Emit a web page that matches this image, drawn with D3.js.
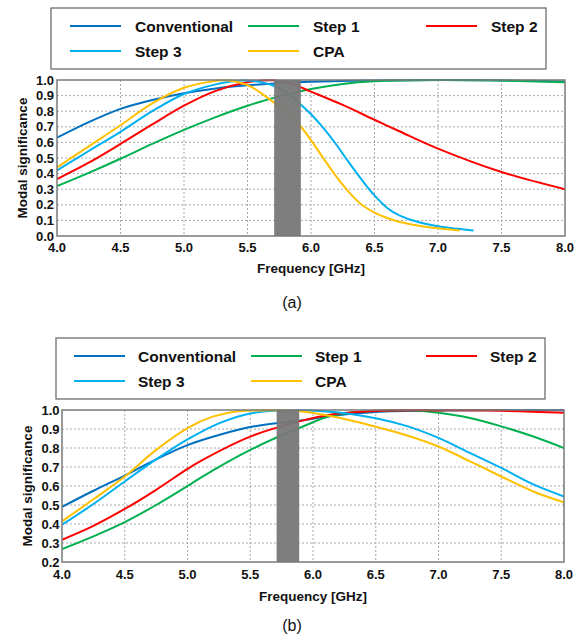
<!DOCTYPE html>
<html>
<head>
<meta charset="utf-8">
<script src="https://cdn.jsdelivr.net/npm/d3@7"></script>
<style>
  body { margin: 0; background: #fff; }
  text { font-family: "Liberation Sans", Arial, sans-serif; }
</style>
</head>
<body>
<div id="chart"></div>
<script>
// ---- data ----
const seriesNames = ["Conventional", "Step 1", "Step 2", "Step 3", "CPA"];
const xTicks = [4.0, 4.5, 5.0, 5.5, 6.0, 6.5, 7.0, 7.5, 8.0];
const yTicksA = [0.0, 0.1, 0.2, 0.3, 0.4, 0.5, 0.6, 0.7, 0.8, 0.9, 1.0];
const yTicksB = [0.2, 0.3, 0.4, 0.5, 0.6, 0.7, 0.8, 0.9, 1.0];
const bandA = [5.71, 5.92];
const bandB = [5.71, 5.89];

// panel (a)
const a_conventional = [[4.0,0.63],[4.25,0.73],[4.5,0.815],[4.75,0.872],[5.0,0.915],[5.25,0.946],[5.5,0.966],[5.75,0.979],[6.0,0.988],[6.5,0.997],[7.0,1.0],[7.5,0.997],[8.0,0.99]];
const a_step1 = [[4.0,0.32],[4.25,0.405],[4.5,0.495],[4.75,0.59],[5.0,0.68],[5.25,0.762],[5.5,0.835],[5.75,0.895],[6.0,0.942],[6.25,0.975],[6.5,0.992],[7.0,1.0],[7.5,0.996],[8.0,0.985]];
const a_step2 = [[4.0,0.365],[4.25,0.47],[4.5,0.59],[4.75,0.715],[5.0,0.835],[5.25,0.93],[5.5,0.985],[5.7,0.998],[5.85,0.975],[6.0,0.925],[6.25,0.84],[6.5,0.745],[6.7,0.67],[7.0,0.56],[7.5,0.41],[8.0,0.30]];
const a_step3 = [[4.0,0.42],[4.25,0.545],[4.5,0.668],[4.75,0.80],[5.0,0.91],[5.25,0.972],[5.45,0.997],[5.6,0.988],[5.78,0.935],[5.91,0.85],[6.0,0.78],[6.1,0.69],[6.2,0.585],[6.3,0.47],[6.4,0.36],[6.5,0.26],[6.6,0.18],[6.7,0.13],[6.85,0.088],[7.0,0.062],[7.15,0.046],[7.28,0.035]];
const a_cpa = [[4.0,0.44],[4.25,0.575],[4.5,0.71],[4.75,0.85],[5.0,0.95],[5.2,0.988],[5.35,0.997],[5.52,0.96],[5.65,0.89],[5.78,0.81],[5.91,0.71],[6.0,0.615],[6.1,0.495],[6.2,0.38],[6.3,0.28],[6.4,0.20],[6.5,0.15],[6.6,0.115],[6.7,0.09],[6.85,0.066],[7.0,0.049],[7.17,0.035]];

// panel (b)
const b_conventional = [[4.0,0.49],[4.25,0.575],[4.5,0.655],[4.75,0.74],[5.0,0.815],[5.25,0.868],[5.5,0.91],[5.9,0.945],[6.16,0.97],[6.5,0.99],[7.0,0.998],[7.5,0.999],[8.0,0.999]];
const b_step1 = [[4.0,0.268],[4.25,0.335],[4.5,0.41],[4.75,0.50],[5.0,0.60],[5.1,0.642],[5.5,0.79],[5.89,0.905],[6.16,0.972],[6.5,0.996],[6.8,0.997],[7.0,0.985],[7.25,0.958],[7.5,0.914],[7.75,0.862],[8.0,0.80]];
const b_step2 = [[4.0,0.317],[4.25,0.39],[4.5,0.479],[4.75,0.58],[5.0,0.69],[5.1,0.73],[5.5,0.86],[5.89,0.94],[6.16,0.978],[6.5,0.995],[7.0,0.998],[7.5,0.996],[8.0,0.985]];
const b_step3 = [[4.0,0.396],[4.25,0.505],[4.5,0.624],[4.75,0.74],[5.0,0.845],[5.25,0.93],[5.5,0.982],[5.75,0.997],[6.16,0.99],[6.5,0.957],[6.75,0.915],[7.0,0.853],[7.25,0.774],[7.5,0.695],[7.76,0.607],[8.0,0.545]];
const b_cpa = [[4.0,0.414],[4.25,0.53],[4.5,0.65],[4.75,0.79],[5.0,0.905],[5.2,0.965],[5.4,0.994],[5.6,0.998],[5.85,0.996],[6.16,0.966],[6.5,0.912],[6.75,0.866],[7.0,0.808],[7.25,0.73],[7.5,0.65],[7.76,0.57],[8.0,0.514]];

const colors = ["#0070c0", "#00b050", "#ff0000", "#00b0f0", "#ffc000"];

let svg = d3.select("#chart").append("svg")
    .attr("width", 584)
    .attr("height", 639);

function drawPanel(cfg, seriesData, yTicks, band, caption) {
    let g = svg.append("g");
    let x = d3.scaleLinear().domain([4, 8]).range([cfg.left, cfg.right]);
    let y = d3.scaleLinear().domain([yTicks[0], 1.0]).range([cfg.bottom, cfg.top]);

    // legend box
    g.append("rect")
        .attr("x", cfg.lgX0).attr("y", cfg.lgY0)
        .attr("width", cfg.lgX1 - cfg.lgX0).attr("height", cfg.lgY1 - cfg.lgY0)
        .style("fill", "#fff").style("stroke", "#6e6e6e").style("stroke-width", 1.3);

    seriesNames.forEach(function(name, i) {
        let col = i % 3, row = Math.floor(i / 3);
        let ly = cfg.rows[row];
        g.append("line")
            .attr("x1", cfg.lineX[col]).attr("x2", cfg.lineX[col] + 51)
            .attr("y1", ly).attr("y2", ly)
            .style("stroke", colors[i]).style("stroke-width", 2.2);
        g.append("text")
            .attr("x", cfg.textX[col]).attr("y", ly)
            .attr("dy", "0.36em")
            .style("font-size", "15.5px").style("font-weight", "bold")
            .style("fill", "#111")
            .text(name);
    });

    // grid
    g.selectAll("line.vgrid")
        .data(xTicks.slice(1, -1))
        .enter().append("line")
        .attr("x1", d => x(d)).attr("x2", d => x(d))
        .attr("y1", cfg.top).attr("y2", cfg.bottom)
        .style("stroke", "#a8a8a8").style("stroke-dasharray", "2,2");
    g.selectAll("line.hgrid")
        .data(yTicks.slice(1, -1))
        .enter().append("line")
        .attr("x1", cfg.left).attr("x2", cfg.right)
        .attr("y1", d => y(d)).attr("y2", d => y(d))
        .style("stroke", "#a8a8a8").style("stroke-dasharray", "2,2");

    // curves
    let clipId = "clip" + caption.replace(/\W/g, "");
    g.append("clipPath").attr("id", clipId)
        .append("rect")
        .attr("x", cfg.left).attr("y", cfg.top - 1)
        .attr("width", cfg.right - cfg.left).attr("height", cfg.bottom - cfg.top + 1);

    let line = d3.line()
        .x(d => x(d[0]))
        .y(d => y(d[1]))
        .curve(d3.curveCatmullRom.alpha(0.5));

    g.append("g").attr("clip-path", "url(#" + clipId + ")")
        .selectAll("path")
        .data(seriesData)
        .enter().append("path")
        .attr("d", d => line(d))
        .style("fill", "none")
        .style("stroke", (d, i) => colors[i])
        .style("stroke-width", 2);

    // band
    g.append("rect")
        .attr("x", x(band[0])).attr("y", cfg.top)
        .attr("width", x(band[1]) - x(band[0]))
        .attr("height", cfg.bottom - cfg.top)
        .style("fill", "#777777").style("opacity", 0.95);

    // frame
    g.append("rect")
        .attr("x", cfg.left).attr("y", cfg.top)
        .attr("width", cfg.right - cfg.left).attr("height", cfg.bottom - cfg.top)
        .style("fill", "none").style("stroke", "#7a7a7a").style("stroke-width", 1.5);

    // tick labels
    g.selectAll("text.xt")
        .data(xTicks)
        .enter().append("text")
        .attr("x", d => x(d)).attr("y", cfg.xLabY)
        .attr("dy", "0.36em")
        .attr("text-anchor", "middle")
        .style("font-size", "13px").style("font-weight", "bold").style("fill", "#111")
        .text(d => d.toFixed(1));
    g.selectAll("text.yt")
        .data(yTicks)
        .enter().append("text")
        .attr("x", cfg.yLabX).attr("y", d => y(d))
        .attr("dy", "0.36em")
        .attr("text-anchor", "end")
        .style("font-size", "13px").style("font-weight", "bold").style("fill", "#111")
        .text(d => d.toFixed(1));

    // axis titles
    g.append("text")
        .attr("x", (cfg.left + cfg.right) / 2).attr("y", cfg.xTitleY)
        .attr("dy", "0.36em")
        .attr("text-anchor", "middle")
        .style("font-size", "13.5px").style("font-weight", "bold").style("fill", "#111")
        .text("Frequency [GHz]");
    g.append("text")
        .attr("transform", "translate(" + cfg.yTitleX + "," + ((cfg.top + cfg.bottom) / 2) + ") rotate(-90)")
        .attr("dy", "0.36em")
        .attr("text-anchor", "middle")
        .style("font-size", "13.5px").style("font-weight", "bold").style("fill", "#111")
        .text("Modal significance");

    // caption
    g.append("text")
        .attr("x", 292).attr("y", cfg.capY)
        .attr("dy", "0.36em")
        .attr("text-anchor", "middle")
        .style("font-size", "16px").style("fill", "#111")
        .text(caption);
}

drawPanel({
    left: 57, right: 565, top: 80, bottom: 236,
    lgX0: 51, lgX1: 546, lgY0: 8, lgY1: 69,
    rows: [26, 51], lineX: [70, 248, 426], textX: [135, 313, 491],
    xLabY: 247.5, yLabX: 54, xTitleY: 268.5, yTitleX: 22, capY: 302.5
}, [a_conventional, a_step1, a_step2, a_step3, a_cpa], yTicksA, bandA, "(a)");

drawPanel({
    left: 62, right: 564, top: 410, bottom: 562,
    lgX0: 56, lgX1: 545, lgY0: 338, lgY1: 399,
    rows: [356, 381], lineX: [74, 251, 426], textX: [138, 315, 490],
    xLabY: 574, yLabX: 59.5, xTitleY: 596, yTitleX: 27, capY: 625
}, [b_conventional, b_step1, b_step2, b_step3, b_cpa], yTicksB, bandB, "(b)");
</script>
</body>
</html>
